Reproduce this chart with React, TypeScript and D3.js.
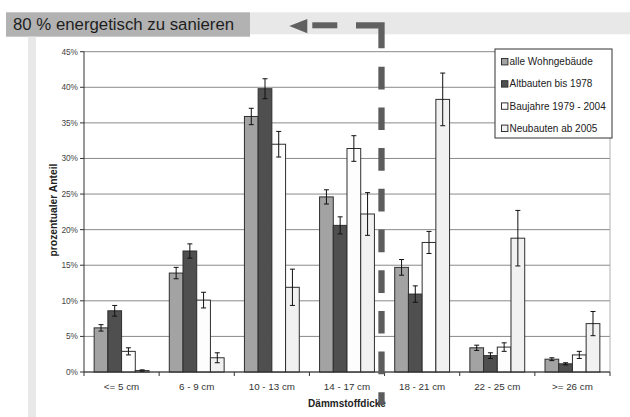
import React from "react";
import * as d3 from "d3";

const categories = ["<= 5 cm", "6 - 9 cm", "10 - 13 cm", "14 - 17 cm", "18 - 21 cm", "22 - 25 cm", ">= 26 cm"];
const seriesNames = ["alle Wohngebäude", "Altbauten bis 1978", "Baujahre 1979 - 2004", "Neubauten ab 2005"];
const seriesColors = ["#a3a3a3", "#4f4f4f", "#fdfdfd", "#f1f1f1"];
const alleWohngebaeude = [6.2, 13.9, 35.9, 24.6, 14.7, 3.4, 1.8];
const altbauten = [8.6, 17.0, 39.8, 20.6, 10.95, 2.3, 1.15];
const baujahre = [2.9, 10.1, 32.0, 31.4, 18.2, 3.5, 2.4];
const neubauten = [0.2, 2.0, 11.9, 22.2, 38.3, 18.8, 6.8];
const errAlle = [0.45, 0.8, 1.15, 1.0, 1.1, 0.37, 0.2];
const errAlt = [0.75, 1.0, 1.4, 1.2, 1.15, 0.4, 0.15];
const errBau = [0.5, 1.1, 1.8, 1.8, 1.55, 0.6, 0.5];
const errNeu = [0.1, 0.7, 2.55, 3.0, 3.7, 3.9, 1.7];
const yTicks = [0, 5, 10, 15, 20, 25, 30, 35, 40, 45];
const titleText = "80 % energetisch zu sanieren";
const yTitle = "prozentualer Anteil";
const xTitle = "Dämmstoffdicke";

const values = [alleWohngebaeude, altbauten, baujahre, neubauten];
const errors = [errAlle, errAlt, errBau, errNeu];

export default function App() {
  const W = 630, H = 417;
  const left = 84, right = 610, top = 51.7, bottom = 372;
  const x0 = d3.scaleBand<string>().domain(categories).range([left, right]).padding(0);
  const bw = x0.bandwidth();
  const x1 = d3.scaleBand<string>().domain(seriesNames).range([bw * 0.135, bw * 0.865]).padding(0);
  const y = d3.scaleLinear().domain([0, 45]).range([bottom, top]);
  const font = "Liberation Sans, Arial, sans-serif";
  const dashX = 381.5;

  return (
    <svg width={W} height={H} style={{ position: "absolute", left: 0, top: 0 }} fontFamily={font}>
      <rect x={0} y={0} width={W} height={H} fill="#ffffff" />
      {/* header bands */}
      <rect x={250} y={12.3} width={380} height={22} fill="#e8e8e8" />
      <rect x={6} y={12.3} width={244} height={24.4} fill="#b2b2b2" />
      <text x={13} y={24.5} dominantBaseline="central" fontSize={16.8} fill="#1e1e1e">{titleText}</text>
      {/* left strip */}
      <rect x={28} y={36.7} width={8} height={H - 36.7} fill="#e8e8e8" />

      {/* gridlines */}
      {yTicks.map((t) => (
        <line key={t} x1={left} x2={right} y1={y(t)} y2={y(t)} stroke="#8a8a8a" strokeWidth={1} />
      ))}
      <line x1={right} x2={right} y1={top} y2={bottom} stroke="#b0b0b0" strokeWidth={1} />

      {/* bars */}
      {categories.map((c, ci) => (
        <g key={c}>
          {seriesNames.map((s, si) => {
            const v = values[si][ci];
            const e = errors[si][ci];
            const bx = (x0(c) as number) + (x1(s) as number);
            const cx = bx + x1.bandwidth() / 2;
            return (
              <g key={s}>
                <rect x={bx} y={y(v)} width={x1.bandwidth()} height={bottom - y(v)} fill={seriesColors[si]} stroke="#2e2e2e" strokeWidth={1} />
                <line x1={cx} x2={cx} y1={y(v + e)} y2={y(Math.max(0, v - e))} stroke="#111" strokeWidth={1} />
                <line x1={cx - 2.5} x2={cx + 2.5} y1={y(v + e)} y2={y(v + e)} stroke="#111" strokeWidth={1} />
                <line x1={cx - 2.5} x2={cx + 2.5} y1={y(Math.max(0, v - e))} y2={y(Math.max(0, v - e))} stroke="#111" strokeWidth={1} />
              </g>
            );
          })}
        </g>
      ))}

      {/* axes */}
      <line x1={left} x2={left} y1={top} y2={bottom} stroke="#333" strokeWidth={1} />
      {yTicks.map((t) => (
        <g key={"yt" + t}>
          <line x1={left - 4} x2={left} y1={y(t)} y2={y(t)} stroke="#333" strokeWidth={1} />
          <text x={left - 6} y={y(t)} textAnchor="end" dominantBaseline="central" fontSize={8.3} fill="#444">{t + "%"}</text>
        </g>
      ))}
      <line x1={left} x2={right} y1={bottom} y2={bottom} stroke="#333" strokeWidth={1} />
      {categories.map((c, ci) => (
        <g key={"xt" + c}>
          <line x1={(x0(c) as number)} x2={(x0(c) as number)} y1={bottom} y2={bottom + 4} stroke="#333" strokeWidth={1} />
          <text x={(x0(c) as number) + bw / 2} y={386} textAnchor="middle" dominantBaseline="central" fontSize={9.8} fill="#333">{c}</text>
        </g>
      ))}
      <line x1={right} x2={right} y1={bottom} y2={bottom + 4} stroke="#333" strokeWidth={1} />

      {/* axis titles */}
      <text transform={`translate(53.5,210) rotate(-90)`} textAnchor="middle" dominantBaseline="central" fontSize={10.3} fontWeight="bold" fill="#222">{yTitle}</text>
      <text x={(left + right) / 2} y={403} textAnchor="middle" dominantBaseline="central" fontSize={10} fontWeight="bold" fill="#222">{xTitle}</text>

      {/* legend */}
      <rect x={495} y={49} width={117} height={89} fill="#ffffff" stroke="#333" strokeWidth={1} />
      {seriesNames.map((s, i) => (
        <g key={"lg" + s}>
          <rect x={501.5} y={61.7 + i * 22.2 - 3.2} width={6.4} height={6.4} fill={seriesColors[i]} stroke="#333" strokeWidth={1} />
          <text x={509.5} y={61.7 + i * 22.2} dominantBaseline="central" fontSize={10} fill="#222">{s}</text>
        </g>
      ))}

      {/* arrow and dashed line */}
      <polygon points="289.3,26 307.3,19 307.3,33.3" fill="#606060" />
      <rect x={312.3} y={22.3} width={25} height={6} fill="#606060" />
      <path d={`M356,25.3 H${dashX} V48.3`} fill="none" stroke="#606060" strokeWidth={6.3} />
      <line x1={dashX} x2={dashX} y1={66.7} y2={405} stroke="#5c5c5c" strokeWidth={6.3} strokeDasharray="22.7 18" />
    </svg>
  );
}
